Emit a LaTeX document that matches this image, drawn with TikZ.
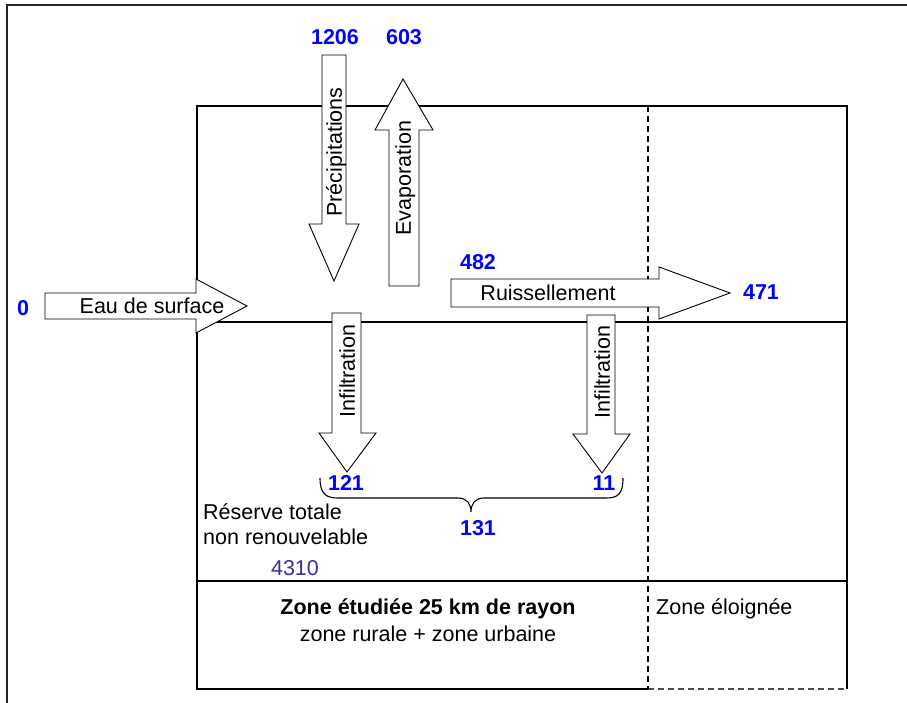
\documentclass[tikz,border=0pt]{standalone}
\usepackage{fontspec}
\setmainfont{Liberation Sans}
\definecolor{numblue}{RGB}{0,0,255}
\definecolor{slate}{RGB}{51,51,153}
\begin{document}
\begin{tikzpicture}[x=1pt,y=-1pt,
  boxline/.style={line width=1.6pt},
  dashline/.style={line width=1.5pt, dash pattern=on 6pt off 4pt},
  blk/.style={draw=black, fill=white, line width=0.9pt, line join=miter},
  lbl/.style={font=\fontsize{21.5}{25}\selectfont, inner sep=0pt, text height=15.5pt, text depth=0pt},
  lblb/.style={lbl, font=\fontsize{21.5}{25}\selectfont\bfseries},
  num/.style={lblb, text=numblue},
]
\useasboundingbox (0,0) rectangle (907,703);
% outer frame (only top and left visible)
\draw[line width=1.4pt, black!85] (7,703) -- (7,5) -- (907,5);
% main box
\draw[boxline] (648,106) -- (197,106) -- (197,689) -- (648,689);
\draw[boxline] (648,106) -- (847,106) -- (847,689);
\draw[dashline, black!70] (648,689) -- (847,689);
\draw[boxline] (197,322) -- (847,322);
\draw[boxline] (197,581) -- (847,581);
\draw[dashline] (648,106) -- (648,689);
% block arrows
\draw[blk] (322,55) -- (346,55) -- (346,224) -- (359,224) -- (334,281) -- (309,224) -- (322,224) -- cycle;
\draw[blk] (389,286) -- (419,286) -- (419,130) -- (433,130) -- (403,79) -- (375,130) -- (389,130) -- cycle;
\draw[blk] (45,293) -- (196,293) -- (196,279) -- (247,306) -- (196,333) -- (196,319) -- (45,319) -- cycle;
\draw[blk] (451,279) -- (659,279) -- (659,267) -- (730,293) -- (659,319) -- (659,307) -- (451,307) -- cycle;
\draw[blk] (332,313) -- (361,313) -- (361,433) -- (376,433) -- (347,472) -- (319,433) -- (332,433) -- cycle;
\draw[blk] (587,315) -- (615,315) -- (615,434) -- (630,434) -- (602,473) -- (573,434) -- (587,434) -- cycle;
% brace
\draw[line width=1.1pt] (320,478) .. controls (320,494) and (326,498) .. (338,498) -- (458,498)
  .. controls (467,498) and (471,504) .. (471,512)
  .. controls (471,504) and (475,498) .. (484,498) -- (606,498)
  .. controls (618,498) and (623,494) .. (623,478);
% labels
\node[lbl, rotate=90] (prec) at (334,152) {Précipitations};
\node[lbl, rotate=90] (evap) at (403,178) {Evaporation};
\node[lbl, rotate=90] (inf1) at (347,371) {Infiltration};
\node[lbl, rotate=90] (inf2) at (602,372) {Infiltration};
\node[lbl] (eau) at (152,306) {Eau de surface};
\node[lbl] (ruis) at (548,293) {Ruissellement};
\node[num] (n1206) at (335,37) {1206};
\node[num] (n603) at (404,37) {603};
\node[num] (n0) at (23,308) {0};
\node[num] (n482) at (478,262) {482};
\node[num] (n471) at (761,292) {471};
\node[num] (n121) at (346,483) {121};
\node[num] (n11) at (604,483) {11};
\node[num] (n131) at (478,528) {131};
\node[lbl, anchor=west] (res1) at (203,512) {Réserve totale};
\node[lbl, anchor=west] (res2) at (203,537) {non renouvelable};
\node[lbl, text=slate] (n4310) at (295,568) {4310};
\node[lblb] (zone) at (428,607) {Zone étudiée 25 km de rayon};
\node[lbl] (zr) at (428,634) {zone rurale + zone urbaine};
\node[lbl, anchor=west] (ze) at (656,607) {Zone éloignée};
\end{tikzpicture}
\end{document}
